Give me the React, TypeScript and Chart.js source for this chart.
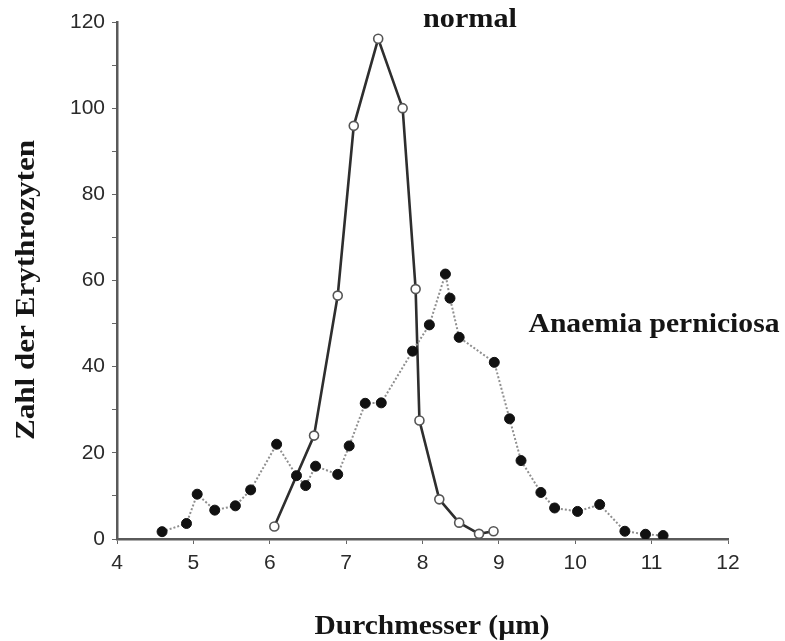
import React, { useEffect, useRef } from "react";
import { Chart, registerables } from "chart.js";

Chart.register(...registerables);

const normalX = [6.06, 6.58, 6.89, 7.1, 7.42, 7.74, 7.91, 7.96, 8.22, 8.48, 8.74, 8.93];
const normalY = [2.9, 24, 56.5, 95.9, 116.1, 100, 58, 27.5, 9.2, 3.8, 1.2, 1.8];

const anaemiaX = [4.59, 4.91, 5.05, 5.28, 5.55, 5.75, 6.09, 6.35, 6.47, 6.6, 6.89, 7.04, 7.25, 7.46, 7.87, 8.09, 8.3, 8.36, 8.48, 8.94, 9.14, 9.29, 9.55, 9.73, 10.03, 10.32, 10.65, 10.92, 11.15];
const anaemiaY = [1.7, 3.6, 10.4, 6.7, 7.7, 11.4, 22, 14.7, 12.4, 16.9, 15, 21.6, 31.5, 31.6, 43.6, 49.7, 61.5, 55.9, 46.8, 41, 27.9, 18.2, 10.8, 7.2, 6.4, 8, 1.8, 1.1, 0.8];

const xTitle = "Durchmesser (µm)";
const yTitle = "Zahl der Erythrozyten";
const normalLabel = "normal";
const anaemiaLabel = "Anaemia perniciosa";

const SERIF = 'bold 28px "Liberation Serif", "DejaVu Serif", serif';

function drawFit(ctx: CanvasRenderingContext2D, text: string, cx: number, cy: number, targetW: number, rot = 0) {
  ctx.save();
  ctx.font = SERIF;
  ctx.fillStyle = "#151515";
  ctx.textAlign = "center";
  ctx.textBaseline = "middle";
  const w = ctx.measureText(text).width;
  const sx = targetW / w;
  ctx.translate(cx, cy);
  if (rot) ctx.rotate(rot);
  ctx.scale(sx, 1);
  ctx.fillText(text, 0, 0);
  ctx.restore();
}

const textPlugin = {
  id: "texts",
  afterDraw(chart: any) {
    const ctx = chart.ctx as CanvasRenderingContext2D;
    drawFit(ctx, normalLabel, 470, 20, 94);
    drawFit(ctx, anaemiaLabel, 654, 325, 251);
    drawFit(ctx, xTitle, 432, 627, 235);
    drawFit(ctx, yTitle, 27, 290, 300, -Math.PI / 2);
  },
};

export default function App() {
  const ref = useRef<HTMLCanvasElement | null>(null);
  useEffect(() => {
    document.body.style.margin = "0";
    const canvas = ref.current;
    if (!canvas) return;
    const chart = new Chart(canvas, {
      type: "scatter",
      data: {
        datasets: [
          {
            label: anaemiaLabel,
            data: anaemiaX.map((x, i) => ({ x, y: anaemiaY[i] })),
            showLine: true,
            borderColor: "#8f8f8f",
            borderWidth: 2,
            borderDash: [2, 2],
            pointBackgroundColor: "#111",
            pointBorderColor: "#111",
            pointRadius: 5,
            pointBorderWidth: 1,
          },
          {
            label: normalLabel,
            data: normalX.map((x, i) => ({ x, y: normalY[i] })),
            showLine: true,
            borderColor: "#2e2e2e",
            borderWidth: 2.6,
            pointBackgroundColor: "#fff",
            pointBorderColor: "#555",
            pointRadius: 4.5,
            pointBorderWidth: 1.6,
          },
        ],
      },
      options: {
        animation: false,
        responsive: false,
        maintainAspectRatio: false,
        layout: { padding: { left: 0, right: 57, top: 22, bottom: 0 } },
        plugins: { legend: { display: false }, tooltip: { enabled: false } },
        scales: {
          x: {
            type: "linear",
            min: 4,
            max: 12,
            afterFit(scale: any) {
              scale.height = 102;
            },
            border: { display: true, color: "#5a5a5a", width: 2.5 },
            grid: { display: true, drawOnChartArea: false, drawTicks: true, tickLength: 5, color: "#666" },
            ticks: {
              stepSize: 1,
              padding: 7,
              color: "#2a2a2a",
              font: { family: '"Liberation Sans", Arial, sans-serif', size: 21 },
            },
          },
          y: {
            type: "linear",
            min: 0,
            max: 120,
            afterFit(scale: any) {
              scale.width = 117;
            },
            border: { display: true, color: "#5a5a5a", width: 2.5 },
            grid: { display: true, drawOnChartArea: false, drawTicks: true, tickLength: 5, color: "#666" },
            ticks: {
              stepSize: 10,
              padding: 7,
              color: "#2a2a2a",
              font: { family: '"Liberation Sans", Arial, sans-serif', size: 21 },
              callback: (v: any) => (Number(v) % 20 === 0 ? String(v) : ""),
            },
          },
        },
      },
      plugins: [textPlugin],
    });
    return () => chart.destroy();
  }, []);
  return (
    <div style={{ position: "absolute", left: 0, top: 0, width: 785, height: 641, background: "#fff" }}>
      <canvas ref={ref} width={785} height={641} style={{ width: 785, height: 641, display: "block" }} />
    </div>
  );
}
